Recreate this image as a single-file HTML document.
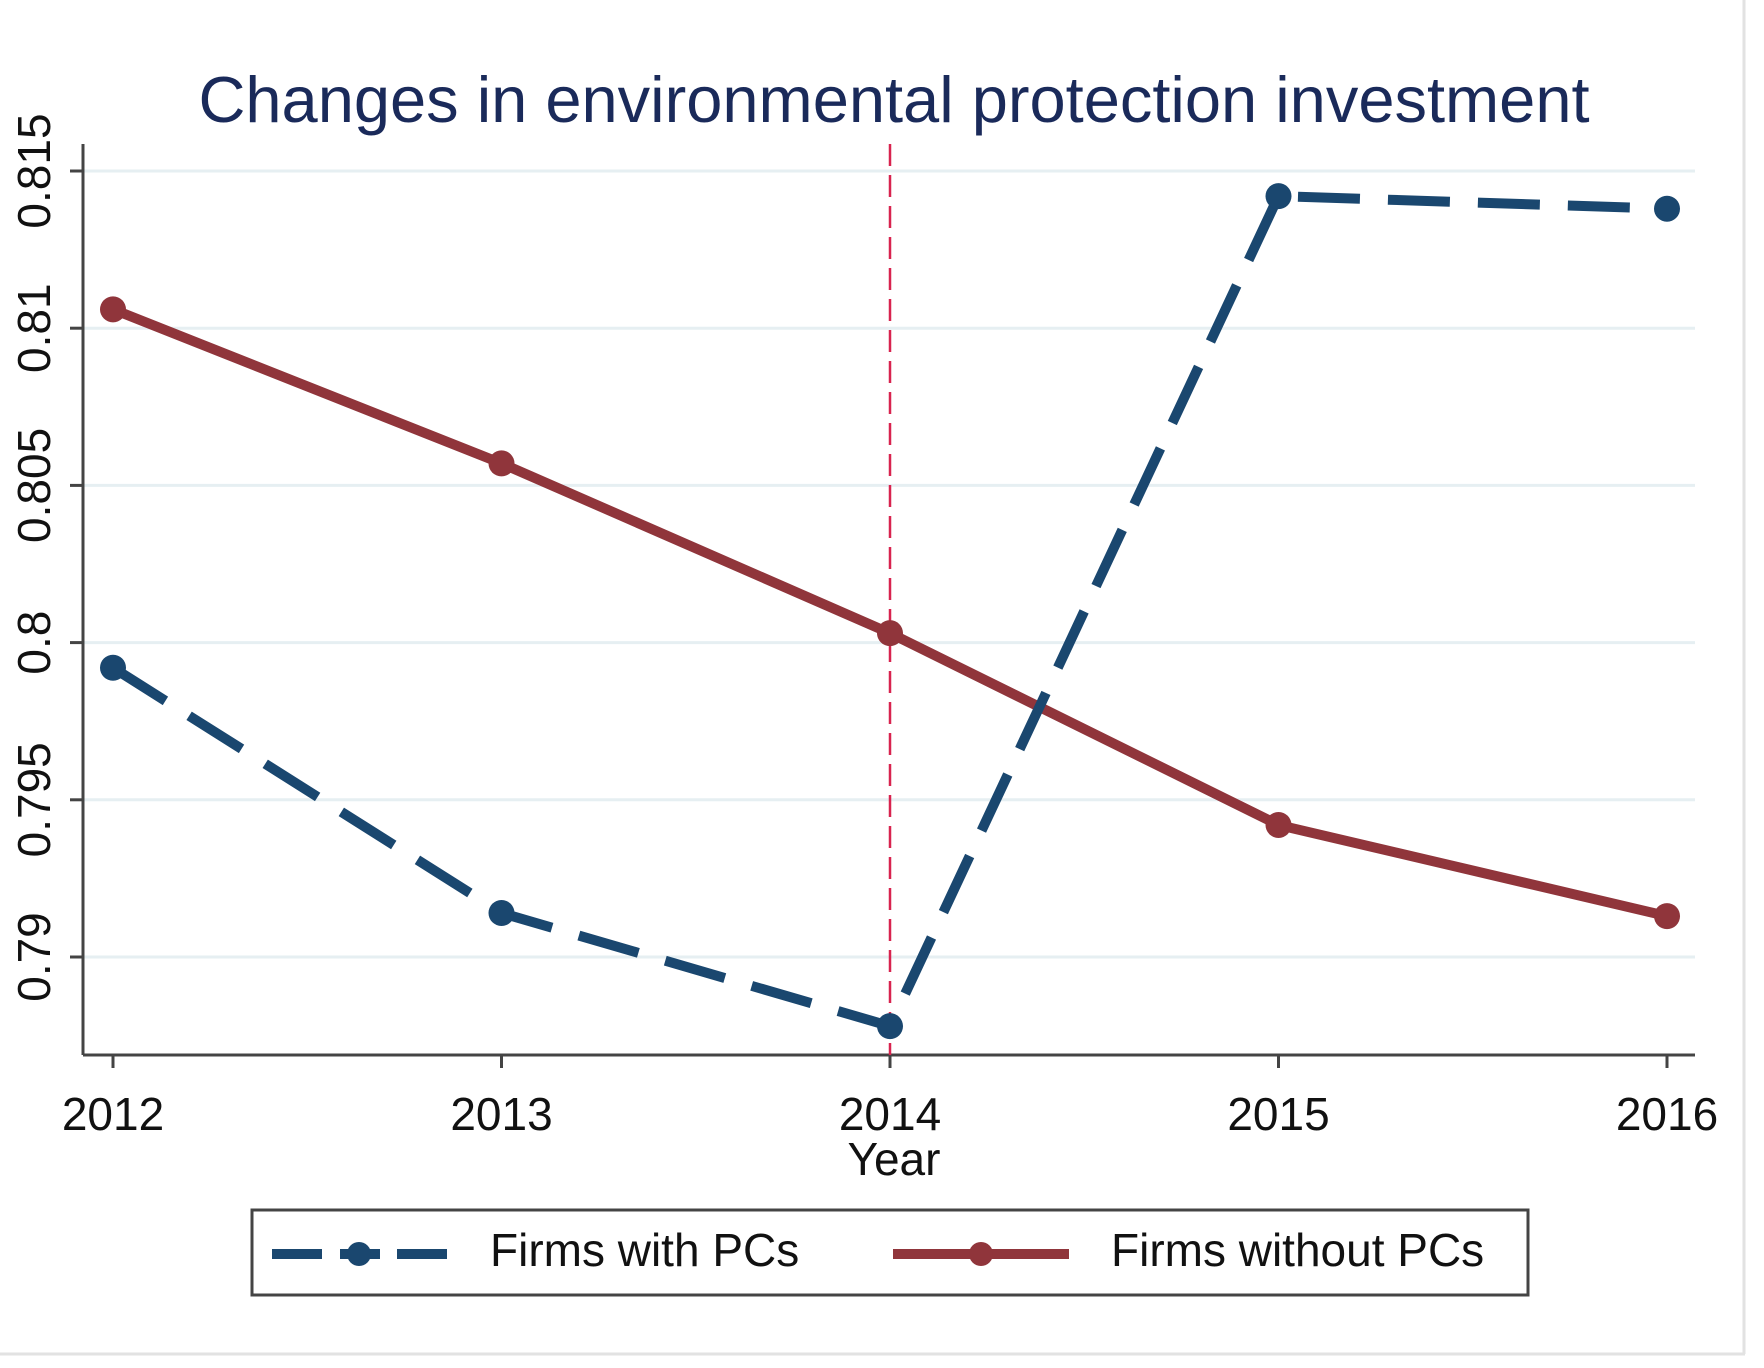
<!DOCTYPE html>
<html><head><meta charset="utf-8"><style>
html,body{margin:0;padding:0;background:#fff;}
svg{display:block;font-family:"Liberation Sans",Arial,sans-serif;}
</style></head><body>
<svg id="chart" width="1764" height="1368" viewBox="0 0 1764 1368" xmlns="http://www.w3.org/2000/svg">
<rect x="0" y="0" width="1764" height="1368" fill="#fff"/>
<line x1="1744" y1="0" x2="1744" y2="1354" stroke="#e2e2e2" stroke-width="3"/>
<line x1="0" y1="1354" x2="1745" y2="1354" stroke="#e2e2e2" stroke-width="3"/>
<text x="894" y="122" text-anchor="middle" font-size="65" fill="#1a2a5a">Changes in environmental protection investment</text>
<g id="grid"></g>
<g id="axes"></g>
<g id="series"></g>
<text x="894" y="1175" text-anchor="middle" font-size="46" fill="#111">Year</text>
<g>
<rect x="252" y="1210" width="1276" height="85" fill="#fff" stroke="#444" stroke-width="3"/>
<g stroke="#1a476f" stroke-width="10">
<line x1="272" y1="1254" x2="322" y2="1254"/>
<line x1="340" y1="1254" x2="380" y2="1254"/>
<line x1="397" y1="1254" x2="447" y2="1254"/>
</g>
<circle cx="359" cy="1254" r="12" fill="#1a476f"/>
<text x="490" y="1266" font-size="46" fill="#111">Firms with PCs</text>
<line x1="893" y1="1254" x2="1069" y2="1254" stroke="#90353b" stroke-width="10"/>
<circle cx="981" cy="1254" r="12" fill="#90353b"/>
<text x="1111" y="1266" font-size="46" fill="#111">Firms without PCs</text>
</g>
</svg>
<script>
const years = [2012, 2013, 2014, 2015, 2016];
const withPCs = [0.7992, 0.7914, 0.7878, 0.8142, 0.8138];
const withoutPCs = [0.8106, 0.8057, 0.8003, 0.7942, 0.7913];
const yTicks = [0.79, 0.795, 0.8, 0.805, 0.81, 0.815];
const yTickLabels = ["0.79", "0.795", "0.8", "0.805", "0.81", "0.815"];
const policyYear = 2014;

const NS = "http://www.w3.org/2000/svg";
const L = 83, R = 1695, T = 144, B = 1055;
function xs(v){ return 113 + (v - 2012) * (1667 - 113) / 4; }
function ys(v){ return 171 + (0.815 - v) * (957 - 171) / 0.025; }
function mk(tag, attrs, parent){
  const el = document.createElementNS(NS, tag);
  for (const k in attrs) el.setAttribute(k, attrs[k]);
  parent.appendChild(el);
  return el;
}
const grid = document.getElementById('grid');
const axes = document.getElementById('axes');
const series = document.getElementById('series');

yTicks.forEach((t, i) => {
  const g = mk('line', {x1: L, x2: R, y1: ys(t), y2: ys(t), stroke: '#e6eff2', 'stroke-width': 3}, grid);
  
  
  mk('line', {x1: L - 13, x2: L, y1: ys(t), y2: ys(t), stroke: '#444', 'stroke-width': 3}, axes);
  const tx = mk('text', {x: 0, y: 0, 'font-size': 46, fill: '#111', 'text-anchor': 'middle',
    transform: `translate(50,${ys(t)}) rotate(-90)`}, axes);
  tx.textContent = yTickLabels[i];
  
  
});
const ya = mk('line', {x1: L, x2: L, y1: T, y2: B, stroke: '#444', 'stroke-width': 3}, axes);


const xa = mk('line', {x1: L, x2: R, y1: B, y2: B, stroke: '#444', 'stroke-width': 3}, axes);


years.forEach(yr => {
  mk('line', {x1: xs(yr), x2: xs(yr), y1: B, y2: B + 13, stroke: '#444', 'stroke-width': 3}, axes);
  const tx = mk('text', {x: xs(yr), y: 1130, 'font-size': 46, fill: '#111', 'text-anchor': 'middle'}, axes);
  tx.textContent = String(yr);
  
  
});
const vl = mk('line', {x1: xs(policyYear), x2: xs(policyYear), y1: T, y2: B, stroke: '#d8234f', 'stroke-width': 2.5, 'stroke-dasharray': '22,9'}, series);



function drawSeries(vals, color, dash, name){
  const pts = vals.map((v, i) => xs(years[i]) + ',' + ys(v)).join(' ');
  const attrs = {points: pts, fill: 'none', stroke: color, 'stroke-width': 10, 'stroke-linejoin': 'round'};
  if (dash) attrs['stroke-dasharray'] = dash;
  const pl = mk('polyline', attrs, series);
  
  
  vals.forEach((v, i) => {
    const c = mk('circle', {cx: xs(years[i]), cy: ys(v), r: 13, fill: color}, series);
    
    
  });
}
drawSeries(withoutPCs, '#90353b', null, 'without-pcs');
drawSeries(withPCs, '#1a476f', '62,28', 'with-pcs');
</script>
</body></html>
